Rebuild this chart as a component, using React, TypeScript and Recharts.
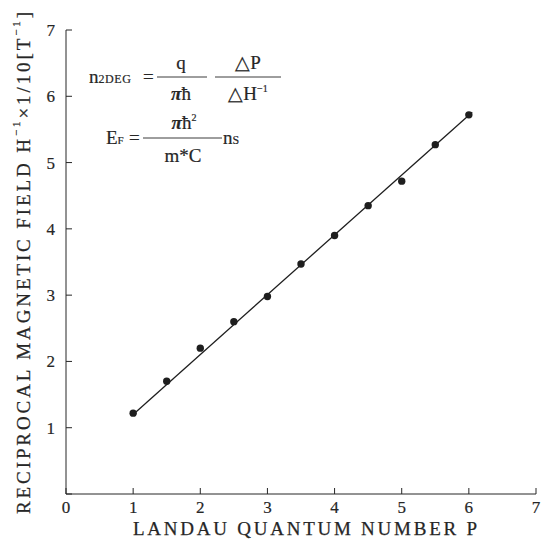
import { ScatterChart, Scatter, XAxis, YAxis } from "recharts";

// measured points: Landau number P vs reciprocal field
const landauP = [1, 1.5, 2, 2.5, 3, 3.5, 4, 4.5, 5, 5.5, 6];
const invField = [1.22, 1.7, 2.2, 2.6, 2.98, 3.47, 3.9, 4.35, 4.72, 5.27, 5.72];

// fitted straight line (end points)
const fitP = [1, 6.05];
const fitInvField = [1.2, 5.76];

const xTicks = [0, 1, 2, 3, 4, 5, 6, 7];
const yTicks = [0, 1, 2, 3, 4, 5, 6, 7];
const innerTicks = [1, 2, 3, 4, 5, 6];

const points = landauP.map((p, i) => ({ p, h: invField[i] }));
const fitLine = fitP.map((p, i) => ({ p, h: fitInvField[i] }));

const FONT = "Liberation Serif";
const INK = "#262626";

const blank = () => "";

const Dot = (props: any) => <circle cx={props.cx} cy={props.cy} r={3.7} fill="#1e1e1e" />;

function XTitle(props: any) {
    const vb = props.viewBox;
    return (
        <text x={vb.x + vb.width / 2 + 4} y={vb.y + 41} textAnchor="middle"
            fontFamily={FONT} fontSize={19} fill={INK} stroke={INK} strokeWidth={0.25}
            textLength={344} lengthAdjust="spacing">
            LANDAU QUANTUM NUMBER P
        </text>
    );
}

function YTitle() {
    const cx = 23;
    const cy = 263;
    return (
        <text x={cx} y={cy} transform={`rotate(-90, ${cx}, ${cy})`} textAnchor="middle"
            dominantBaseline="central" fontFamily={FONT} fontSize={19} fill={INK}
            stroke={INK} strokeWidth={0.25} textLength={502} lengthAdjust="spacing">
            RECIPROCAL MAGNETIC FIELD H<tspan fontSize={11} dy={-7}>−1</tspan>
            <tspan dy={7}>×1/10[T</tspan><tspan fontSize={11} dy={-7}>−1</tspan><tspan dy={7}>]</tspan>
        </text>
    );
}

function Formulas() {
    const t = { fill: INK, fontFamily: FONT, stroke: INK, strokeWidth: 0.2 } as const;
    return (
        <svg width={549} height={549} style={{ position: "absolute", left: 0, top: 0, pointerEvents: "none" }}>
            {/* n2DEG = q/(pi hbar) * dP/dH^-1 */}
            <text x={89} y={83} fontSize={19} {...t}>n<tspan fontSize={12} letterSpacing={0.6}>2DEG</tspan></text>
            <text x={143} y={83} fontSize={19} {...t}>=</text>
            <line x1={157} x2={207} y1={77} y2={77} stroke={INK} strokeWidth={0.9} />
            <text x={181} y={69} fontSize={19} textAnchor="middle" {...t}>q</text>
            <text x={181} y={100} fontSize={19} textAnchor="middle" {...t}><tspan fontStyle="italic" fontWeight="bold">π</tspan>ħ</text>
            <line x1={215} x2={281} y1={77} y2={77} stroke={INK} strokeWidth={0.9} />
            <text x={248} y={69} fontSize={19} textAnchor="middle" {...t}>△P</text>
            <text x={248} y={100} fontSize={19} textAnchor="middle" {...t}>△H<tspan fontSize={10} dy={-8}>−1</tspan></text>

            {/* E_F = pi hbar^2/(m*C) n_s */}
            <text x={106} y={144} fontSize={19} {...t}>E<tspan fontSize={11}>F</tspan></text>
            <text x={129} y={144} fontSize={19} {...t}>=</text>
            <line x1={143} x2={222} y1={138} y2={138} stroke={INK} strokeWidth={0.9} />
            <text x={184} y={129} fontSize={19} textAnchor="middle" {...t}><tspan fontStyle="italic" fontWeight="bold">π</tspan>ħ<tspan fontSize={10} dy={-8}>2</tspan></text>
            <text x={183} y={162} fontSize={19} textAnchor="middle" {...t}>m*C</text>
            <text x={223} y={144} fontSize={19} {...t}>n<tspan fontSize={12}>S</tspan></text>
        </svg>
    );
}

export default function App() {
    const tickStyle = { fill: INK, fontSize: 17, fontFamily: FONT, stroke: INK, strokeWidth: 0.2 };
    return (
        <div style={{ position: "absolute", left: 0, top: 0, width: 549, height: 549, background: "#fff" }}>
            <ScatterChart width={549} height={549} margin={{ top: 30, right: 13, bottom: 0, left: 0 }}>
                <XAxis
                    xAxisId="bottom"
                    type="number"
                    dataKey="p"
                    domain={[0, 7]}
                    ticks={xTicks}
                    height={55}
                    stroke={INK}
                    tickSize={-6}
                    tickMargin={13}
                    tick={tickStyle}
                    label={XTitle}
                />
                <XAxis
                    xAxisId="top"
                    orientation="top"
                    type="number"
                    dataKey="p"
                    domain={[0, 7]}
                    ticks={innerTicks}
                    height={0}
                    stroke={INK}
                    tickSize={-6}
                    tickFormatter={blank}
                />
                <YAxis
                    yAxisId="left"
                    type="number"
                    dataKey="h"
                    domain={[0, 7]}
                    ticks={yTicks}
                    width={66}
                    stroke={INK}
                    tickSize={-6}
                    tickMargin={17}
                    tick={tickStyle}
                    tickFormatter={(v: number) => (v === 0 ? "" : String(v))}
                    label={YTitle}
                />
                <YAxis
                    yAxisId="right"
                    orientation="right"
                    type="number"
                    dataKey="h"
                    domain={[0, 7]}
                    ticks={innerTicks}
                    width={0}
                    stroke={INK}
                    tickSize={-6}
                    tickFormatter={blank}
                />
                <Scatter
                    xAxisId="bottom"
                    yAxisId="left"
                    data={fitLine}
                    line={{ stroke: "#1e1e1e", strokeWidth: 1.3 }}
                    shape={() => <g />}
                    isAnimationActive={false}
                />
                <Scatter
                    xAxisId="bottom"
                    yAxisId="left"
                    data={points}
                    shape={Dot}
                    isAnimationActive={false}
                />
            </ScatterChart>
            <Formulas />
        </div>
    );
}
